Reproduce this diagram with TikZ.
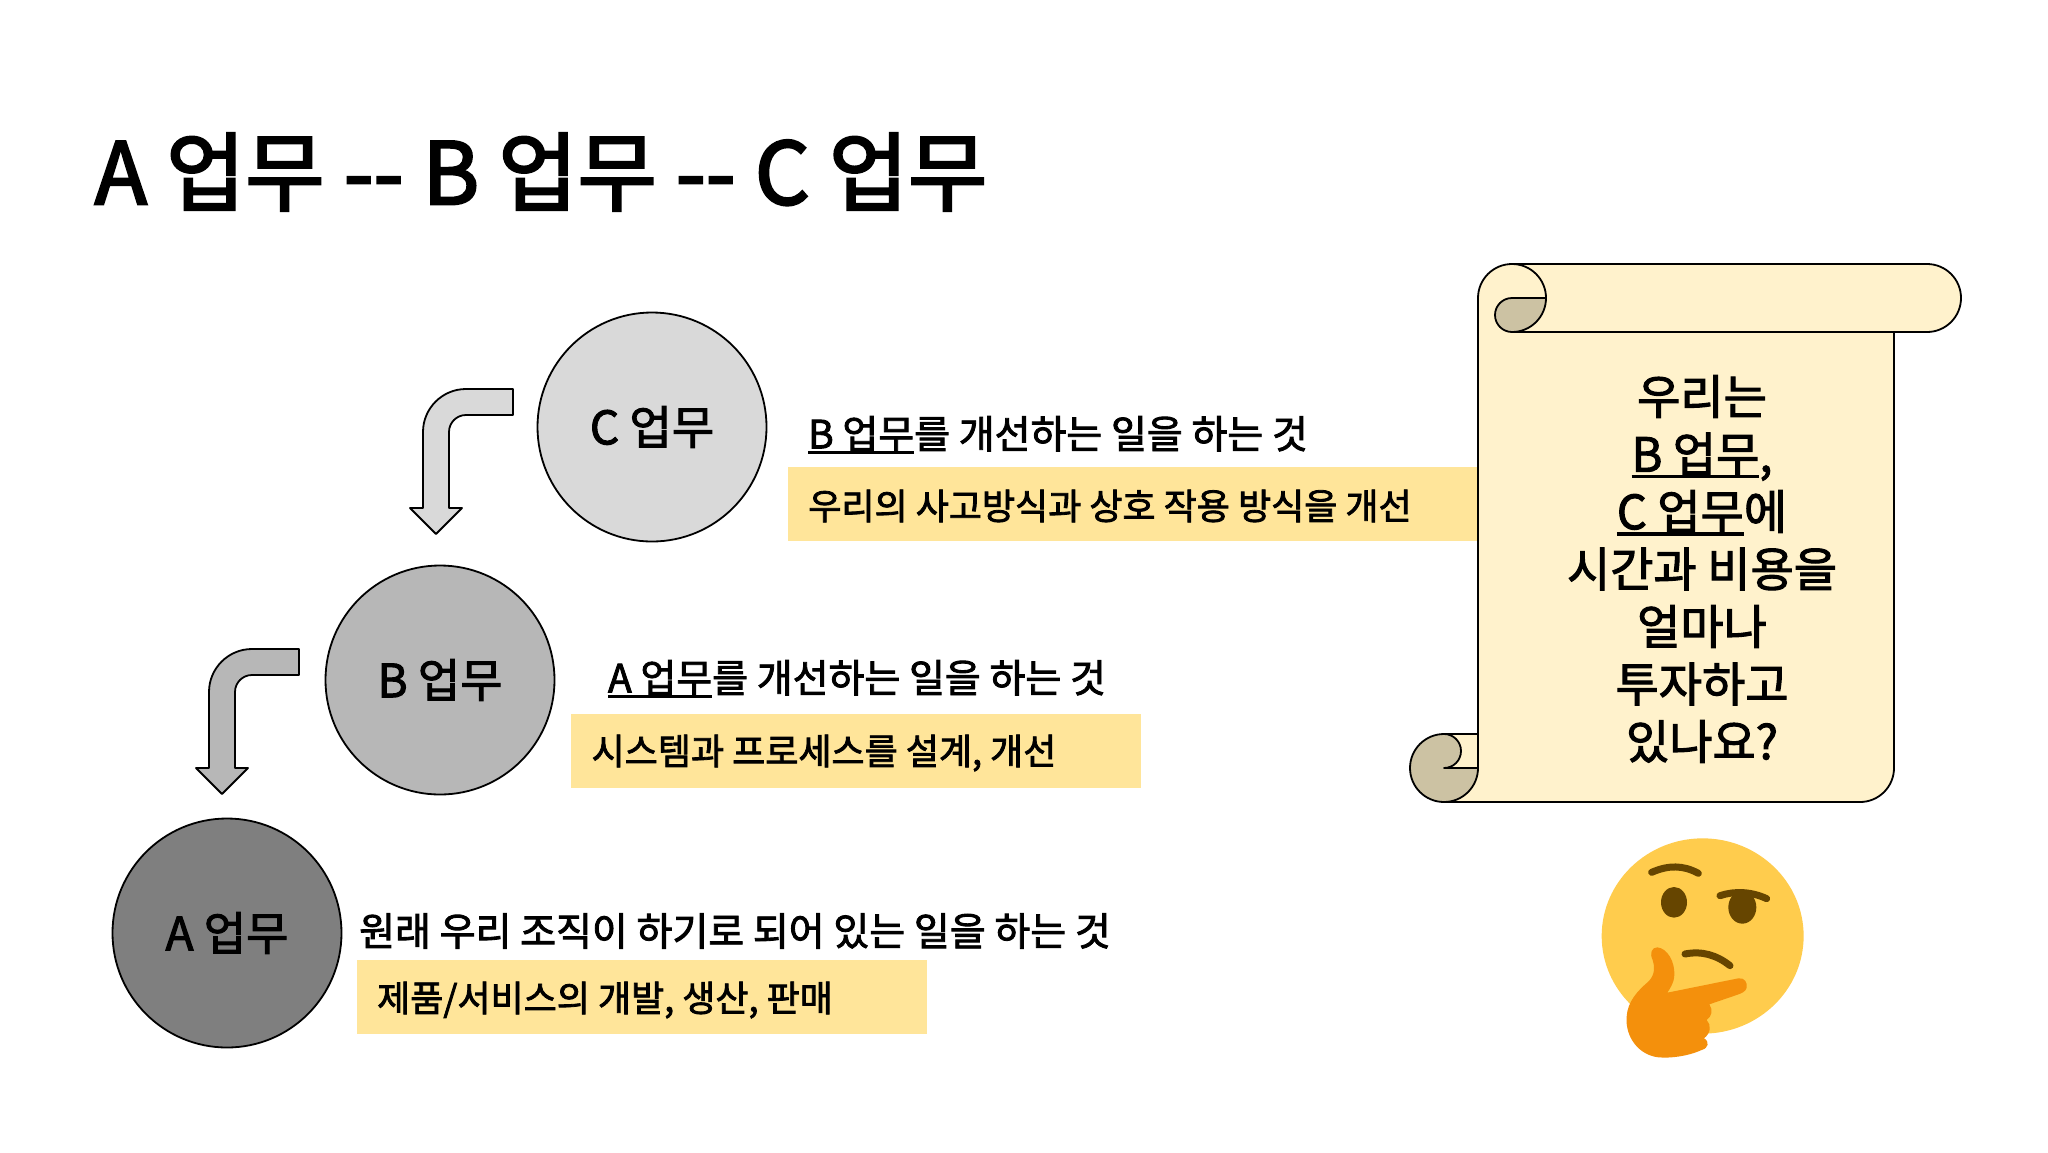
\documentclass[tikz,border=0pt]{standalone}
\usepackage{fontspec}
\setmainfont{Noto Sans CJK KR}[FakeBold=2.2,Ligatures=NoCommon]
\newfontfamily\titlefont{Noto Sans CJK KR}[FakeBold=2.8,Ligatures=NoCommon]
\definecolor{cbar}{HTML}{FFE59A}
\definecolor{scrollc}{HTML}{FFF2CC}
\definecolor{scrolld}{HTML}{CCC2A3}
\definecolor{gc}{HTML}{D9D9D9}
\definecolor{gb}{HTML}{B7B7B7}
\definecolor{ga}{HTML}{7F7F7F}
\definecolor{face}{HTML}{FFCC4D}
\definecolor{eye}{HTML}{664500}
\definecolor{hand}{HTML}{F4900C}
\newsavebox{\uubox}
\newcommand{\uu}[1]{\sbox{\uubox}{#1}\usebox{\uubox}\llap{\rule[-0.14em]{\wd\uubox}{0.07em}}}
\tikzset{
  phase/.style={circle,draw=black,line width=1.8pt,minimum size=229pt,inner sep=0pt,font=\fontsize{46}{46}\selectfont},
  bar/.style={fill=cbar,draw=none},
  line/.style={font=\fontsize{39}{39}\selectfont,inner sep=0pt,text=black},
  barline/.style={font=\fontsize{36}{36}\selectfont,inner sep=0pt,text=black},
  outl/.style={draw=black,line width=1.8pt,line join=round},
  feat/.style={draw=eye,line cap=round,line width=7pt}
}
\begin{document}
\begin{tikzpicture}[x=1pt,y=-1pt]
\useasboundingbox[fill=white] (0,0) rectangle (2048,1152);
\node[inner sep=0pt,font=\titlefont\fontsize{86}{86}\selectfont] (title) at (541,172) {A 업무 -{}- B 업무 -{}- C 업무};
% bars
\fill[bar] (788,467) rectangle (1478,541);
\fill[bar] (571,714) rectangle (1141,788);
\fill[bar] (357,960) rectangle (927,1034);
% circles
\node[phase,fill=gc] (c) at (652,427) {C 업무};
\node[phase,fill=gb] (b) at (440,680) {B 업무};
\node[phase,fill=ga] (a) at (227,933) {A 업무};
% bent arrows
\draw[outl,fill=gc] (513,389) -- (466,389) arc[start angle=90,end angle=180,radius=43pt] -- (423,508) -- (410,508) -- (436,534) -- (462,508) -- (449,508) -- (449,432) arc[start angle=180,end angle=90,radius=17pt] -- (513,415) -- cycle;
\draw[outl,fill=gb] (299,649) -- (252,649) arc[start angle=90,end angle=180,radius=43pt] -- (209,768) -- (196,768) -- (222,794) -- (248,768) -- (235,768) -- (235,692) arc[start angle=180,end angle=90,radius=17pt] -- (299,675) -- cycle;
% labels
\node[line] (t1) at (1058,435) {\uu{B 업무}를 개선하는 일을 하는 것};
\node[barline] (t1b) at (1110,506) {우리의 사고방식과 상호 작용 방식을 개선};
\node[line] (t2) at (857,679) {\uu{A 업무}를 개선하는 일을 하는 것};
\node[barline] (t2b) at (824,753) {시스템과 프로세스를 설계, 개선};
\node[line] (t3) at (735,931) {원래 우리 조직이 하기로 되어 있는 일을 하는 것};
\node[barline] (t3b) at (605,1000) {제품/서비스의 개발, 생산, 판매};
% scroll
\draw[outl,fill=scrollc] (1444,734) -- (1478,734) -- (1478,768) -- (1444,768) -- cycle;
\draw[outl,fill=scrollc] (1512,264) -- (1927,264) arc[start angle=90,end angle=-90,radius=34pt] -- (1894,332) -- (1894,768) arc[start angle=0,end angle=-90,radius=34pt] -- (1444,802) -- (1478,768) -- (1478,298) arc[start angle=180,end angle=90,radius=34pt] -- cycle;
\draw[outl] (1927,332) -- (1512,332);
\draw[draw=none,fill=scrollc] (1445,801) -- (1477,769) -- (1477,801) -- cycle;
\draw[outl] (1444,802) -- (1860,802);
\draw[outl,fill=scrolld] (1512,332) arc[start angle=270,end angle=90,radius=17pt] -- (1546,298) arc[start angle=0,end angle=-90,radius=34pt] -- cycle;
\draw[outl] (1512,264) arc[start angle=90,end angle=0,radius=34pt];
\draw[outl,fill=scrolld] (1444,734) arc[start angle=90,end angle=270,radius=34pt] arc[start angle=-90,end angle=0,radius=34pt] -- (1444,768) arc[start angle=-90,end angle=0,radius=17pt] arc[start angle=0,end angle=90,radius=17pt] -- cycle;
\node[inner sep=0pt,align=center,font=\fontsize{47}{57.5}\selectfont] (q) at (1702,569) {우리는\\\uu{B 업무},\\\uu{C 업무}에\\시간과 비용을\\얼마나\\투자하고\\있나요?};
% emoji
\begin{scope}[shift={(1580,820)},x=0.3333pt,y=-0.3333pt]
\fill[face] (368,348) ellipse[x radius=303,y radius=293];
\fill[eye] (282,247) ellipse[x radius=39,y radius=46];
\fill[eye] (487,262) ellipse[x radius=42,y radius=49];
\fill[face] (405,195) rectangle (575,228);
\draw[feat] (215,157) .. controls (265,135) and (310,135) .. (355,160);
\draw[feat] (420,227) .. controls (465,212) and (515,215) .. (560,236);
\draw[feat] (315,402) .. controls (365,392) and (410,405) .. (450,437);
\fill[hand] (232,382) .. controls (262,385) and (285,425) .. (283,465) .. controls (282,490) and (270,505) .. (262,518) -- (475,475) .. controls (495,472) and (503,490) .. (500,503) .. controls (497,515) and (485,520) .. (470,525) -- (388,553) .. controls (400,570) and (395,590) .. (380,600) .. controls (395,615) and (392,640) .. (372,655) .. controls (390,665) and (385,685) .. (365,690) .. controls (320,710) and (270,715) .. (235,712) .. controls (175,705) and (135,650) .. (140,590) .. controls (142,545) and (175,510) .. (205,485) .. controls (225,465) and (225,440) .. (218,420) .. controls (208,400) and (215,382) .. (232,382) -- cycle;
\end{scope}
\end{tikzpicture}
\end{document}
